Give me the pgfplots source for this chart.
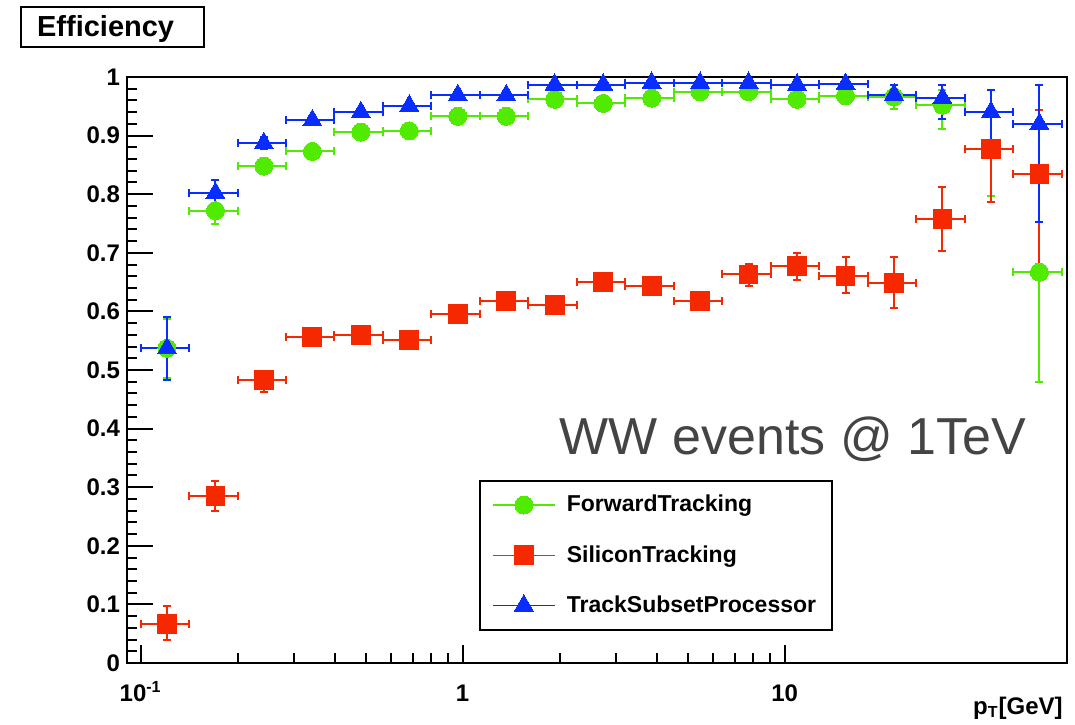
\documentclass[border=0pt]{standalone}
\usepackage{fontspec}
\setmainfont{Liberation Sans}
\usepackage{pgfplots}
\usepackage{pgfplotstable}
\pgfplotsset{compat=1.18}
\definecolor{rgreen}{RGB}{80,235,0}
\definecolor{rred}{RGB}{245,40,0}
\definecolor{rblue}{RGB}{10,45,255}
\definecolor{txtgray}{RGB}{68,68,68}

\pgfplotstableread{
x dx y ep em
0.12071 0.020711 0.537 0.050 0.050
0.17071 0.029289 0.772 0.022 0.022
0.24142 0.041421 0.848 0.012 0.012
0.34142 0.058579 0.873 0.008 0.008
0.48284 0.082843 0.906 0.006 0.006
0.68284 0.11716 0.908 0.006 0.006
0.96569 0.16569 0.933 0.005 0.005
1.36569 0.23431 0.933 0.005 0.005
1.93137 0.33137 0.962 0.004 0.004
2.73137 0.46863 0.955 0.004 0.004
3.86274 0.66274 0.964 0.004 0.004
5.46274 0.93726 0.975 0.004 0.004
7.72548 1.32548 0.975 0.004 0.004
10.9255 1.87452 0.962 0.005 0.005
15.4510 2.65097 0.968 0.006 0.006
21.8510 3.74903 0.966 0.012 0.021
30.9019 5.30193 0.952 0.025 0.041
43.7019 7.49807 0.877 0.060 0.080
61.8039 10.6039 0.667 0.180 0.187
}\greendata

\pgfplotstableread{
x dx y ep em
0.12071 0.020711 0.066 0.032 0.026
0.17071 0.029289 0.285 0.025 0.025
0.24142 0.041421 0.483 0.016 0.021
0.34142 0.058579 0.557 0.008 0.008
0.48284 0.082843 0.560 0.007 0.007
0.68284 0.11716 0.551 0.006 0.006
0.96569 0.16569 0.596 0.005 0.005
1.36569 0.23431 0.618 0.006 0.006
1.93137 0.33137 0.611 0.006 0.006
2.73137 0.46863 0.650 0.008 0.008
3.86274 0.66274 0.644 0.008 0.008
5.46274 0.93726 0.618 0.012 0.012
7.72548 1.32548 0.663 0.018 0.020
10.9255 1.87452 0.678 0.021 0.025
15.4510 2.65097 0.661 0.032 0.029
21.8510 3.74903 0.649 0.043 0.044
30.9019 5.30193 0.758 0.054 0.055
43.7019 7.49807 0.877 0.068 0.090
61.8039 10.6039 0.834 0.110 0.178
}\reddata

\pgfplotstableread{
x dx y ep em
0.12071 0.020711 0.537 0.053 0.054
0.17071 0.029289 0.802 0.022 0.021
0.24142 0.041421 0.887 0.010 0.010
0.34142 0.058579 0.926 0.007 0.007
0.48284 0.082843 0.940 0.005 0.005
0.68284 0.11716 0.951 0.004 0.004
0.96569 0.16569 0.969 0.003 0.003
1.36569 0.23431 0.969 0.003 0.003
1.93137 0.33137 0.987 0.003 0.003
2.73137 0.46863 0.987 0.003 0.003
3.86274 0.66274 0.990 0.002 0.002
5.46274 0.93726 0.990 0.002 0.002
7.72548 1.32548 0.990 0.002 0.002
10.9255 1.87452 0.987 0.003 0.003
15.4510 2.65097 0.988 0.003 0.004
21.8510 3.74903 0.970 0.016 0.017
30.9019 5.30193 0.964 0.022 0.035
43.7019 7.49807 0.940 0.038 0.078
61.8039 10.6039 0.920 0.066 0.167
}\bluedata

\begin{document}
\begin{tikzpicture}
\begin{axis}[
  xmode=log,
  scale only axis,
  width=470pt, height=293pt,
  xmin=0.0907, xmax=75.3, ymin=0, ymax=1,
  axis line style={line width=1pt},
  every tick/.style={black, line width=1pt},
  tick align=inside,
  xtick pos=bottom, ytick pos=left,
  xtick={0.1,1,10},
  xticklabels={10\textsuperscript{-1},1,10},
  ytick={0,0.1,0.2,0.3,0.4,0.5,0.6,0.7,0.8,0.9,1},
  yticklabels={},
  minor y tick num=4,
  extra y ticks={0,0.1,0.2,0.3,0.4,0.5,0.6,0.7,0.8,0.9,1},
  extra y tick labels={0,0.1,0.2,0.3,0.4,0.5,0.6,0.7,0.8,0.9,1},
  extra tick style={major tick length=13pt},
  major tick length=9pt,
  minor tick length=5pt,
  /pgf/number format/assume math mode=true,
  tick label style={font=\bfseries\fontsize{12}{14}\selectfont},
  xticklabel style={anchor=north, text height=8.6pt, yshift=-7pt},
  yticklabel style={anchor=east},
  legend image code/.code={\draw[mark repeat=2,mark phase=2,#1] plot coordinates {(0pt,0pt) (15.65pt,0pt) (31.3pt,0pt)};},
  legend cell align=left,
  legend style={at={(0.3745,0.3123)}, anchor=north west, draw=black, line width=0.8pt,
    inner xsep=6pt, inner ysep=5.2pt, row sep=11.3pt,
    /tikz/every odd column/.append style={column sep=3.5pt},
    font=\bfseries\fontsize{11.5}{13}\selectfont},
  error bars/error bar style={line width=1pt, solid},
  error bars/error mark options={rotate=90, line width=1pt, mark size=2pt},
]
\addplot[forget plot, only marks, color=rgreen, mark=*, mark size=4.5pt,
  mark options={fill=rgreen, draw=rgreen, line width=0pt},
  error bars/.cd, x dir=both, x explicit, y dir=both, y explicit]
  table[x=x, y=y, x error=dx, y error plus=ep, y error minus=em] {\greendata};
\addplot[forget plot, only marks, color=rred, mark=square*, mark size=4.7pt,
  mark options={fill=rred, draw=rred, line width=0pt},
  error bars/.cd, x dir=both, x explicit, y dir=both, y explicit]
  table[x=x, y=y, x error=dx, y error plus=ep, y error minus=em] {\reddata};
\addplot[forget plot, only marks, color=rblue, mark=triangle*, mark size=5.5pt,
  mark options={fill=rblue, draw=rblue, line width=0pt},
  error bars/.cd, x dir=both, x explicit, y dir=both, y explicit]
  table[x=x, y=y, x error=dx, y error plus=ep, y error minus=em] {\bluedata};

\addlegendimage{rgreen, line width=0.7pt, mark=*, mark size=4.5pt, mark options={fill=rgreen, line width=0pt}}
\addlegendentry{ForwardTracking}
\addlegendimage{rred, line width=0.7pt, mark=square*, mark size=4.7pt, mark options={fill=rred, line width=0pt}}
\addlegendentry{SiliconTracking}
\addlegendimage{rblue, line width=0.7pt, mark=triangle*, mark size=5.5pt, mark options={fill=rblue, line width=0pt}}
\addlegendentry{TrackSubsetProcessor}

\node[anchor=base, inner sep=0pt, text=txtgray, font=\fontsize{26}{30}\selectfont] at (axis cs:10.6,0.355) {WW events @ 1TeV};
\end{axis}
\draw[line width=0.8pt] ([xshift=-53pt,yshift=15pt]current axis.north west) rectangle ([xshift=38.5pt,yshift=35pt]current axis.north west);
\node[anchor=base west, inner sep=0pt, font=\bfseries\fontsize{14.5}{16}\selectfont] at ([xshift=-45.15pt,yshift=20.15pt]current axis.north west) {Efficiency};
\node[anchor=base east, inner sep=0pt, font=\bfseries\fontsize{12}{14}\selectfont] at ([xshift=-2pt,yshift=-25.5pt]current axis.south east) {p\textsubscript{T}[GeV]};
\pgfresetboundingbox
\path ([xshift=-63.5pt,yshift=-30.5pt]current axis.south west) rectangle ([xshift=4pt,yshift=38.5pt]current axis.north east);
\end{tikzpicture}
\end{document}
